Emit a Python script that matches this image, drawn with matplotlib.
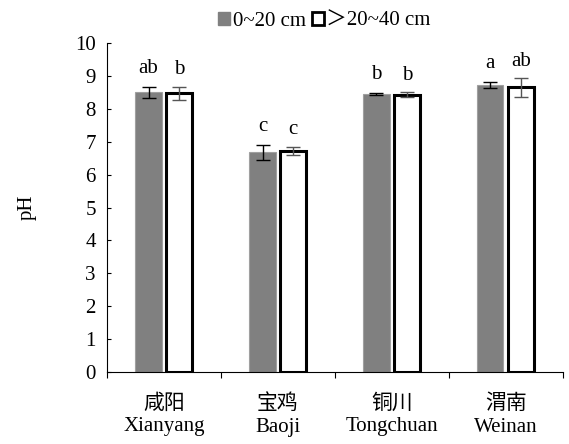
import numpy as np
import matplotlib.pyplot as plt
from matplotlib.patches import Patch

plt.rcParams['font.family'] = ['Liberation Serif', 'Noto Sans CJK SC']

sites_cn = ['咸阳', '宝鸡', '铜川', '渭南']
sites_en = ['Xianyang', 'Baoji', 'Tongchuan', 'Weinan']
ph_top = [8.50, 6.68, 8.45, 8.72]
err_top = [0.17, 0.22, 0.03, 0.10]
ph_sub = [8.47, 6.73, 8.43, 8.65]
err_sub = [0.20, 0.12, 0.08, 0.28]
sig_top = ['ab', 'c', 'b', 'a']
sig_sub = ['b', 'c', 'b', 'ab']

fs = 15
fig = plt.figure(figsize=(5.69, 4.44), dpi=100)
ax = fig.add_axes([0.188, 0.162, 0.801, 0.741])

x = np.arange(len(sites_cn))
w = 0.23
off = 0.135
ax.bar(x - off, ph_top, w, color='#808080', edgecolor='#a0a0a0', lw=0.8,
       yerr=err_top, capsize=5, error_kw=dict(lw=1, capthick=1))
ax.bar(x + off, ph_sub, w, color='white', edgecolor='black', lw=2.2,
       yerr=err_sub, capsize=5, error_kw=dict(lw=1, capthick=1, ecolor='#555555'))

for i in range(len(x)):
    ax.text(x[i] - off, ph_top[i] + err_top[i] + 0.42, sig_top[i], ha='center', va='baseline', fontsize=fs)
    ax.text(x[i] + off, ph_sub[i] + err_sub[i] + 0.38, sig_sub[i], ha='center', va='baseline', fontsize=fs)

ax.set_xlim(-0.5, len(x) - 0.5)
ax.set_ylim(0, 10)
ax.set_yticks(range(0, 11))
ax.tick_params(axis='y', direction='in', length=3, labelsize=fs, pad=8)
ax.set_xticks(np.arange(-0.5, len(x), 1))
ax.set_xticklabels([])
ax.tick_params(axis='x', direction='out', length=4)
for i in range(len(x)):
    ax.text(x[i], -0.68, sites_cn[i] + '\n' + sites_en[i], ha='center', va='top',
            fontsize=fs, linespacing=1.25)
ax.spines['top'].set_visible(False)
ax.spines['right'].set_visible(False)
ax.set_ylabel('pH', fontsize=fs, labelpad=28)

handles = [Patch(facecolor='#808080', edgecolor='#808080'),
           Patch(facecolor='white', edgecolor='black', lw=2)]
fig.legend(handles, ['0~20 cm', '＞20~40 cm'], loc='upper center', bbox_to_anchor=(0.57, 1.015),
           ncol=2, frameon=False, fontsize=fs, handlelength=0.6, handleheight=0.6,
           handletextpad=0.1, columnspacing=0.3)

fig.savefig('out.png', dpi=100)
